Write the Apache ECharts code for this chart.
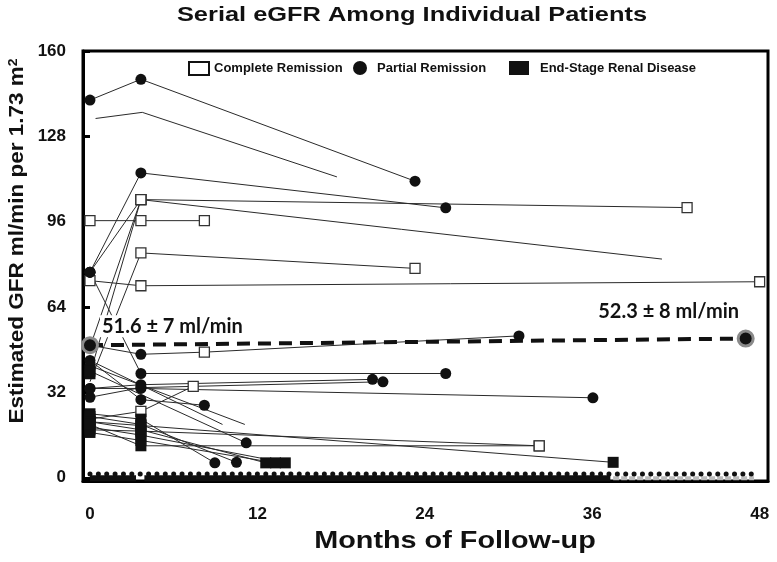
<!DOCTYPE html>
<html><head><meta charset="utf-8">
<script src="https://cdn.jsdelivr.net/npm/echarts@6/dist/echarts.min.js"></script>
<style>html,body{margin:0;padding:0;background:#fff}#c{width:777px;height:562px}</style>
</head><body><div id="c"></div>
<script>
// ---- data ----
const titleText = 'Serial eGFR Among Individual Patients';
const xName = 'Months of Follow-up';
const yName = 'Estimated GFR ml/min per 1.73 m{sup|2}';
const xTicks = [0, 12, 24, 36, 48];
const yTicks = [0, 32, 64, 96, 128, 160];
// each patient: [month, eGFR, status]  C = complete remission, P = partial remission, E = ESRD, N = no marker
const p01 = [[0,141.6,'P'],[3.65,149.4,'P'],[23.3,111.2,'P']];
const p02 = [[0.4,134.7,'N'],[3.75,137,'N'],[17.7,112.8,'N']];
const p03 = [[0,77.1,'P'],[3.65,114.3,'P'],[25.5,101.2,'P']];
const p04 = [[0,77.1,'P'],[3.65,104.3,'C'],[42.8,101.3,'C']];
const p05 = [[0,49,'N'],[3.65,104.3,'C'],[41,82,'N']];
const p06 = [[0,96.4,'C'],[3.65,96.4,'C'],[8.2,96.4,'C']];
const p07 = [[0,36,'N'],[3.65,84.3,'C'],[23.3,78.5,'C']];
const p08 = [[0,73.9,'C'],[3.65,72,'C'],[48,73.5,'C']];
const p09 = [[0,39,'E'],[3.65,104.3,'C']];
const p10 = [[0,49.7,'P'],[3.65,46.3,'P'],[8.2,47.1,'C'],[30.75,53.2,'P']];
const p11 = [[0,77.1,'P'],[3.65,39.1,'P'],[25.5,39.1,'P']];
const p12 = [[0,33.5,'P'],[3.65,34.9,'P'],[20.25,36.9,'P']];
const p13 = [[0,30.2,'P'],[3.65,33.8,'P'],[21,36,'P']];
const p14 = [[0,33.5,'P'],[3.65,33.5,'P'],[36.05,30,'P']];
const p15 = [[0,22,'E'],[3.65,24.9,'C'],[7.4,34.3,'C']];
const p16 = [[0,44,'N'],[3.65,29.3,'P'],[8.2,27.2,'P']];
const p17 = [[0,44,'P'],[9.5,20,'N']];
const p18 = [[0,42,'P'],[11.1,20,'N']];
const p19 = [[0,40,'E'],[11.2,13.1,'P']];
const p20 = [[0,24,'E'],[3.65,22,'E'],[8.95,5.6,'P']];
const p21 = [[0,23,'E'],[3.65,20,'E'],[10.5,5.8,'P']];
const p22 = [[0,21,'E'],[3.65,18,'E'],[12.6,5.6,'E']];
const p23 = [[0,19,'E'],[3.65,16,'E'],[14,5.6,'E']];
const p24 = [[0,18,'E'],[3.65,17.5,'E'],[32.2,12,'C']];
const p25 = [[0,21,'E'],[3.65,19.6,'E'],[37.5,5.8,'E']];
const p26 = [[0,17,'E'],[3.65,14,'E'],[13.3,5.6,'E']];
const p27 = [[0,20,'E'],[3.65,12,'E'],[32.2,12,'C']];
const patients = [p01,p02,p03,p04,p05,p06,p07,p08,p09,p10,p11,p12,p13,p14,p15,p16,p17,p18,p19,p20,p21,p22,p23,p24,p25,p26,p27];

// group means
const meanStart = [0, 49.7];
const meanEnd = [47, 52.2];
const meanLabels = ['51.6 \u00b1 7 ml/min', '52.3 \u00b1 8 ml/min'];

// dialysis track along eGFR = 0
const trackMonths = [0,0.6,1.2,1.8,2.4,3,3.6,4.2,4.8,5.4,6,6.6,7.2,7.8,8.4,9,9.6,10.2,10.8,11.4,12,12.6,13.2,13.8,14.4,15,15.6,16.2,16.8,17.4,18,18.6,19.2,19.8,20.4,21,21.6,22.2,22.8,23.4,24,24.6,25.2,25.8,26.4,27,27.6,28.2,28.8,29.4,30,30.6,31.2,31.8,32.4,33,33.6,34.2,34.8,35.4,36,36.6,37.2,37.8,38.4,39,39.6,40.2,40.8,41.4,42,42.6,43.2,43.8,44.4,45,45.6,46.2,46.8,47.4];
const trackBump = 1.4;
const trackLevel = -0.2;
const trackDarkSegments = [[0, 3.3], [3.9, 37.3]];
const trackLightSegment = [37.5, 47.6];

const legendNames = ['Complete Remission', 'Partial Remission', 'End-Stage Renal Disease'];

// ---- build ----
const chart = echarts.init(document.getElementById('c'));
const groups = {C: [], P: [], E: []};
patients.forEach(p => p.forEach(d => { if (groups[d[2]]) groups[d[2]].push([d[0], d[1]]); }));

const FONT = '"Liberation Sans", Arial, sans-serif';
const series = [];
patients.forEach(p => series.push({
  type: 'line', data: p.map(d => [d[0], d[1]]), symbol: 'none', showSymbol: false,
  lineStyle: {color: '#2a2a2a', width: 1}, z: 2, silent: true
}));
trackDarkSegments.forEach(s => series.push({
  type: 'line', data: [[s[0], trackLevel], [s[1], trackLevel]], symbol: 'none',
  lineStyle: {color: '#111', width: 6, cap: 'butt'}, z: 3, silent: true
}));
series.push({
  type: 'line', data: [[trackLightSegment[0], trackLevel], [trackLightSegment[1], trackLevel]], symbol: 'none',
  lineStyle: {color: '#bbb', width: 4, type: [6, 2]}, z: 3, silent: true
});
series.push({
  type: 'scatter', data: trackMonths.map(m => [m, trackBump]), symbol: 'circle', symbolSize: 5,
  itemStyle: {color: '#111', opacity: 1}, z: 3, silent: true
});
series.push({
  name: legendNames[0], type: 'scatter', data: groups.C, symbol: 'rect', symbolSize: 10,
  itemStyle: {color: '#fff', borderColor: '#333', borderWidth: 1.3, opacity: 1}, z: 5
});
series.push({
  name: legendNames[1], type: 'scatter', data: groups.P, symbol: 'circle', symbolSize: 11,
  itemStyle: {color: '#111', opacity: 1}, z: 5
});
series.push({
  name: legendNames[2], type: 'scatter', data: groups.E, symbol: 'rect', symbolSize: 11,
  itemStyle: {color: '#111', opacity: 1}, z: 5
});
const annFont = {fontFamily: 'Lato, "Open Sans", sans-serif', fontWeight: 'bold', fontSize: 20, color: '#111'};
series.push({
  type: 'line', z: 6, silent: true,
  symbol: 'circle', symbolSize: 15, showSymbol: true,
  itemStyle: {color: '#111', borderColor: '#8a8a8a', borderWidth: 3},
  lineStyle: {color: '#111', width: 4, type: [13, 8]},
  data: [
    {value: meanStart, label: {show: true, position: 'right', distance: 3, offset: [-2, -19], formatter: meanLabels[0],
      backgroundColor: '#fff', padding: [1, 2], ...annFont}},
    {value: meanEnd, label: {show: true, position: 'top', distance: 5, offset: [-77, -3], formatter: meanLabels[1], ...annFont}}
  ]
});

const legendBase = {orient: 'horizontal', top: 61, padding: 0, selectedMode: false,
  textStyle: {fontFamily: FONT, fontWeight: 'bold', fontSize: 13, color: '#111'}};

chart.setOption({
  animation: false,
  backgroundColor: '#fff',
  legend: [
    Object.assign({}, legendBase, {data: [{name: legendNames[0], itemStyle: {borderColor: '#111', borderWidth: 2}}],
      left: 188, itemWidth: 20, itemHeight: 13}),
    Object.assign({}, legendBase, {data: [legendNames[1]], left: 353, itemWidth: 14, itemHeight: 14,
      textStyle: Object.assign({}, legendBase.textStyle, {padding: [0, 0, 0, 5]})}),
    Object.assign({}, legendBase, {data: [legendNames[2]], left: 509, itemWidth: 20, itemHeight: 14,
      textStyle: Object.assign({}, legendBase.textStyle, {padding: [0, 0, 0, 6]})})
  ],
  grid: {left: 83, right: 9, top: 51, bottom: 81, show: true, borderColor: '#000', borderWidth: 3, backgroundColor: 'transparent'},
  xAxis: {
    type: 'value', min: -0.5, max: 48.6,
    axisLine: {show: true, onZero: false, lineStyle: {color: '#000', width: 3}},
    axisTick: {show: false},
    splitLine: {show: false},
    axisLabel: {customValues: xTicks, margin: 25, fontFamily: FONT, fontWeight: 'bold', fontSize: 17, color: '#111'}
  },
  yAxis: {
    type: 'value', min: -1.2, max: 160,
    axisLine: {show: true, onZero: false, lineStyle: {color: '#000', width: 3}},
    axisTick: {show: true, inside: true, length: 7, customValues: yTicks, lineStyle: {color: '#000', width: 3}},
    splitLine: {show: false},
    axisLabel: {customValues: yTicks, margin: 17, fontFamily: FONT, fontWeight: 'bold', fontSize: 17, color: '#111'}
  },
  graphic: [{
    type: 'text', x: 412, y: 15, scaleX: 1.21, silent: true,
    style: {text: titleText, align: 'center', verticalAlign: 'middle',
      fontFamily: FONT, fontWeight: 'bold', fontSize: 21, fill: '#111'}
  }, {
    type: 'text', x: 455, y: 541, scaleX: 1.2, silent: true,
    style: {text: xName, align: 'center', verticalAlign: 'middle',
      fontFamily: FONT, fontWeight: 'bold', fontSize: 24, fill: '#111'}
  }, {
    type: 'text', x: 17, y: 241, rotation: Math.PI / 2, scaleX: 1.07, silent: true,
    style: {text: yName, align: 'center', verticalAlign: 'middle',
      fontFamily: FONT, fontWeight: 'bold', fontSize: 21, fill: '#111',
      rich: {sup: {fontFamily: FONT, fontWeight: 'bold', fontSize: 13, verticalAlign: 'top', fill: '#111'}}}
  }],
  series: series
});
</script></body></html>
